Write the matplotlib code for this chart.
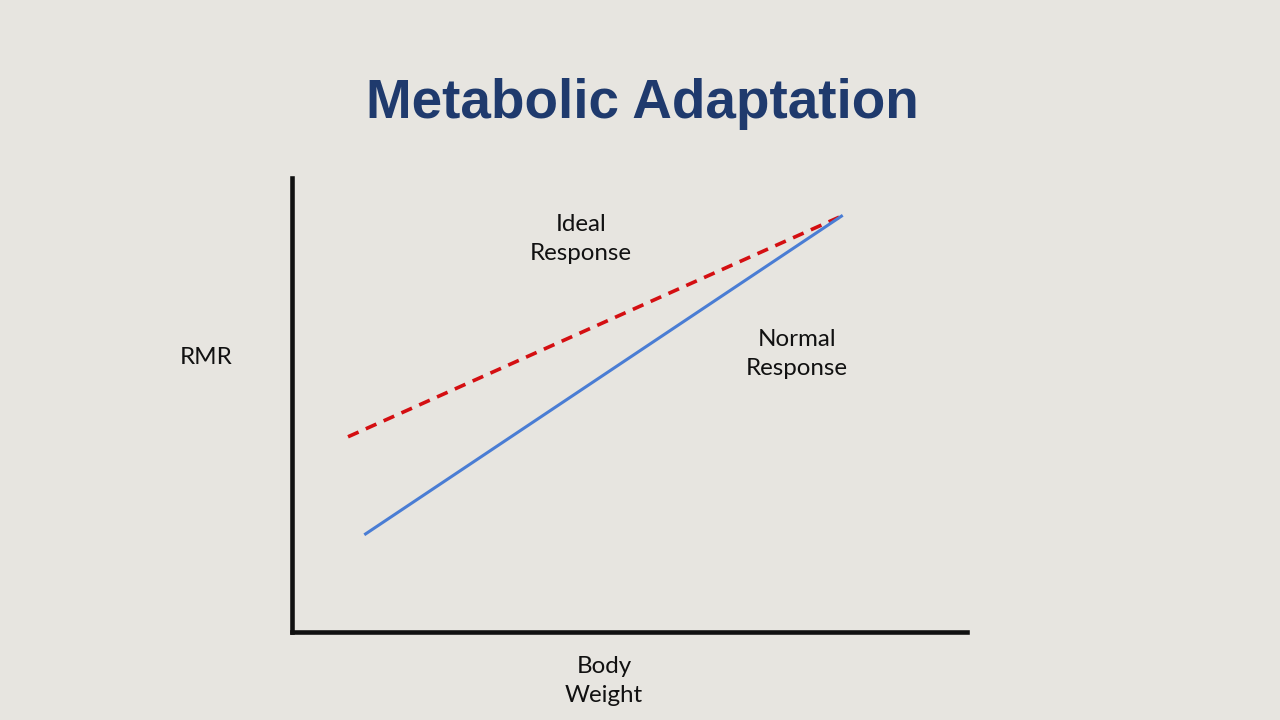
import matplotlib
matplotlib.use("Agg")
import matplotlib.pyplot as plt

# body weight vs RMR (arbitrary units, 0-100 on both axes)
ideal_x = [8.3, 81.4]
ideal_y = [43.0, 91.6]
normal_x = [10.9, 81.4]
normal_y = [21.6, 91.6]

bg = "#e7e5e0"
title_color = "#1f3a6d"
label_font = ["Lato", "DejaVu Sans"]

fig = plt.figure(figsize=(12.8, 7.2), dpi=100, facecolor=bg)
# axes box in figure fractions: left 292px, right 967px, bottom 632px, top 178px
ax = fig.add_axes([292 / 1280, 1 - 632 / 720, (967 - 292) / 1280, (632 - 178) / 720])
ax.set_facecolor(bg)
ax.set_xlim(0, 100)
ax.set_ylim(0, 100)

ax.plot(ideal_x, ideal_y, color="#d40f12", lw=2.6, linestyle=(0, (3.2, 2.2)))
ax.plot(normal_x, normal_y, color="#4a7dd4", lw=2.2)

for s in ["top", "right"]:
    ax.spines[s].set_visible(False)
for s in ["left", "bottom"]:
    ax.spines[s].set_linewidth(3.3)
    ax.spines[s].set_color("#111111")
ax.set_xticks([])
ax.set_yticks([])

fig.text(642 / 1280, 1 - 104 / 720, "Metabolic Adaptation", ha="center", va="center",
         fontsize=39.5, fontweight="bold", color=title_color, family=["Liberation Sans", "DejaVu Sans"])

fs = 17.4
fig.text(581 / 1280, 1 - 239 / 720, "Ideal\nResponse", ha="center", va="center",
         fontsize=fs, family=label_font, color="#111111", linespacing=1.45)
fig.text(797 / 1280, 1 - 354 / 720, "Normal\nResponse", ha="center", va="center",
         fontsize=fs, family=label_font, color="#111111", linespacing=1.45)
fig.text(206 / 1280, 1 - 357 / 720, "RMR", ha="center", va="center",
         fontsize=fs, family=label_font, color="#111111")
fig.text(604 / 1280, 1 - 681 / 720, "Body\nWeight", ha="center", va="center",
         fontsize=fs, family=label_font, color="#111111", linespacing=1.45)

fig.savefig("out.png", dpi=100, facecolor=bg)
